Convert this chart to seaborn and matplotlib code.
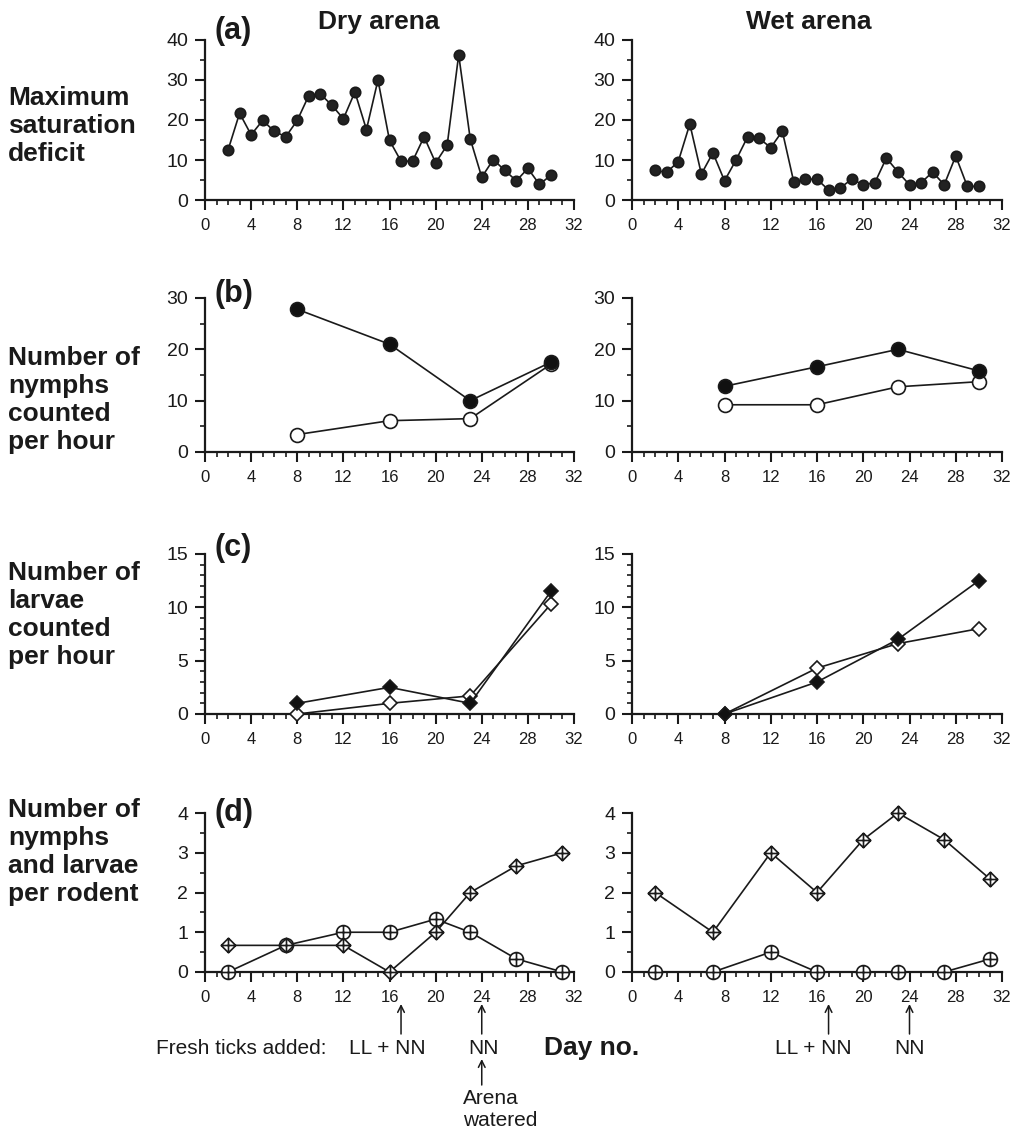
import numpy as np
import pandas as pd
import matplotlib
matplotlib.use("Agg")
import matplotlib.pyplot as plt
import matplotlib.transforms as mtransforms
from matplotlib.path import Path
from matplotlib.ticker import MultipleLocator
import seaborn as sns

# ---------------- data ----------------
days_a = list(range(2, 31))
dry_satdef = [12.5, 21.7, 16.3, 19.9, 17.2, 15.8, 19.9, 26.1, 26.5, 23.7,
              20.3, 27.0, 17.6, 30.0, 14.9, 9.7, 9.7, 15.8, 9.3, 13.7,
              36.3, 15.3, 5.7, 10.1, 7.4, 4.8, 7.9, 3.9, 6.2]
wet_satdef = [7.4, 6.9, 9.6, 19.0, 6.5, 11.8, 4.8, 10.0, 15.8, 15.4,
              13.1, 17.2, 4.4, 5.2, 5.2, 2.5, 3.0, 5.2, 3.8, 4.3,
              10.5, 7.0, 3.8, 4.3, 7.0, 3.8, 11.0, 3.4, 3.4]

days_bc = [8, 16, 23, 30]
dry_nymphs_filled = [27.8, 21.0, 10.0, 17.5]
dry_nymphs_open = [3.4, 6.1, 6.5, 17.1]
wet_nymphs_filled = [12.8, 16.6, 20.0, 15.8]
wet_nymphs_open = [9.2, 9.2, 12.7, 13.7]

dry_larvae_filled = [1.0, 2.5, 1.0, 11.5]
dry_larvae_open = [0.0, 1.0, 1.7, 10.3]
wet_larvae_filled = [0.0, 3.0, 7.0, 12.5]
wet_larvae_open = [0.0, 4.3, 6.6, 8.0]

days_d = [2, 7, 12, 16, 20, 23, 27, 31]
dry_rodent_diamond = [0.67, 0.67, 0.67, 0.0, 1.0, 2.0, 2.67, 3.0]
dry_rodent_circle = [0.0, 0.67, 1.0, 1.0, 1.33, 1.0, 0.33, 0.0]
wet_rodent_diamond = [2.0, 1.0, 3.0, 2.0, 3.33, 4.0, 3.33, 2.33]
wet_rodent_circle = [0.0, 0.0, 0.5, 0.0, 0.0, 0.0, 0.0, 0.33]

row_labels = ["Maximum\nsaturation\ndeficit",
              "Number of\nnymphs\ncounted\nper hour",
              "Number of\nlarvae\ncounted\nper hour",
              "Number of\nnymphs\nand larvae\nper rodent"]
panel_letters = ["(a)", "(b)", "(c)", "(d)"]
col_titles = ["Dry arena", "Wet arena"]

# ---------------- style ----------------
sns.set_theme(style="ticks")
plt.rcParams['font.family'] = ['Liberation Sans', 'DejaVu Sans']

W, H = 1011, 1138
fig = plt.figure(figsize=(W / 100, H / 100), dpi=100)
fig.patch.set_facecolor("white")


def fx(x):
    return x / W


def fy(y):
    return 1 - y / H


# marker paths
M, L = Path.MOVETO, Path.LINETO
diamond_plus = Path.make_compound_path(
    Path([(0, 1), (1, 0), (0, -1), (-1, 0), (0, 1)], [M, L, L, L, Path.CLOSEPOLY]),
    Path([(-1, 0), (1, 0)], [M, L]),
    Path([(0, -1), (0, 1)], [M, L]))
circle_plus = Path.make_compound_path(
    Path.unit_circle(),
    Path([(-1, 0), (1, 0)], [M, L]),
    Path([(0, -1), (0, 1)], [M, L]))

cols_px = [(205, 574), (632, 1002)]
rows_px = [(40, 200), (298, 452), (554, 714), (813, 972)]
ylims = [(40, 10, 5), (30, 10, 5), (15, 5, 1), (4, 1, 0.5)]


def make_ax(r, c):
    x0, x1 = cols_px[c]
    t, b = rows_px[r]
    ax = fig.add_axes([fx(x0), fy(b), (x1 - x0) / W, (b - t) / H])
    ymax, ymaj, ymin = ylims[r]
    ax.set_xlim(0, 32)
    ax.set_ylim(0, ymax)
    ax.xaxis.set_major_locator(MultipleLocator(4))
    ax.xaxis.set_minor_locator(MultipleLocator(1))
    ax.yaxis.set_major_locator(MultipleLocator(ymaj))
    ax.yaxis.set_minor_locator(MultipleLocator(ymin))
    sns.despine(ax=ax)
    for s in ["left", "bottom"]:
        ax.spines[s].set_linewidth(1.6)
        ax.spines[s].set_color("#1a1a1a")
    ax.tick_params(which="major", length=7, width=1.5, direction="out", color="#1a1a1a")
    ax.tick_params(which="minor", length=3.5, width=1.2, direction="out", color="#1a1a1a")
    ax.tick_params(axis="x", labelsize=12, pad=6, labelcolor="#1a1a1a")
    ax.tick_params(axis="y", labelsize=14, pad=5, labelcolor="#1a1a1a")
    ax.patch.set_alpha(0)
    return ax


def line(ax, x, y, marker, ms, fc, zorder=3):
    sns.lineplot(x=x, y=y, ax=ax, color="#1a1a1a", lw=1.2, marker=marker,
                 markersize=ms, markerfacecolor=fc, markeredgecolor="#1a1a1a",
                 markeredgewidth=1.2, clip_on=False, zorder=zorder)
    ax.set_xlabel("")
    ax.set_ylabel("")


for c in range(2):
    # (a)
    ax = make_ax(0, c)
    line(ax, days_a, dry_satdef if c == 0 else wet_satdef, "o", 7.5, "#222222")
    # (b)
    ax = make_ax(1, c)
    line(ax, days_bc, dry_nymphs_open if c == 0 else wet_nymphs_open, "o", 10, "white")
    line(ax, days_bc, dry_nymphs_filled if c == 0 else wet_nymphs_filled, "o", 10, "#111111", 4)
    # (c)
    ax = make_ax(2, c)
    line(ax, days_bc, dry_larvae_open if c == 0 else wet_larvae_open, "D", 7.5, "white")
    line(ax, days_bc, dry_larvae_filled if c == 0 else wet_larvae_filled, "D", 7.5, "#111111", 4)
    # (d)
    ax = make_ax(3, c)
    line(ax, days_d, dry_rodent_circle if c == 0 else wet_rodent_circle, circle_plus, 10, "white")
    line(ax, days_d, dry_rodent_diamond if c == 0 else wet_rodent_diamond, diamond_plus, 10.5, "white", 4)

    # arrows below (d)
    trans = mtransforms.blended_transform_factory(ax.transData, fig.transFigure)
    for d in (17, 24):
        ax.annotate("", xy=(d, fy(1004)), xytext=(d, fy(1034)),
                    xycoords=trans, textcoords=trans, annotation_clip=False,
                    arrowprops=dict(arrowstyle="->", lw=1.1, color="#1a1a1a",
                                    shrinkA=0, shrinkB=0, mutation_scale=12))
    if c == 0:
        ax.annotate("", xy=(24, fy(1059)), xytext=(24, fy(1085)),
                    xycoords=trans, textcoords=trans, annotation_clip=False,
                    arrowprops=dict(arrowstyle="->", lw=1.1, color="#1a1a1a",
                                    shrinkA=0, shrinkB=0, mutation_scale=12))

# ---------------- texts ----------------
row_centers = [126, 400, 615, 852]
for lab, yc in zip(row_labels, row_centers):
    fig.text(fx(8), fy(yc), lab, ha="left", va="center", fontsize=19,
             fontweight="bold", linespacing=1.2, color="#1a1a1a")

letter_centers = [31, 294, 548, 813]
for lab, yc in zip(panel_letters, letter_centers):
    fig.text(fx(215), fy(yc), lab, ha="left", va="center", fontsize=22,
             fontweight="bold", color="#1a1a1a")

fig.text(fx(379), fy(22), col_titles[0], ha="center", va="center",
         fontsize=19, fontweight="bold", color="#1a1a1a")
fig.text(fx(809), fy(22), col_titles[1], ha="center", va="center",
         fontsize=19, fontweight="bold", color="#1a1a1a")

fig.text(fx(156), fy(1048), "Fresh ticks added:", ha="left", va="center",
         fontsize=15, color="#1a1a1a")
fig.text(fx(387), fy(1048), "LL + NN", ha="center", va="center", fontsize=15, color="#1a1a1a")
fig.text(fx(483), fy(1048), "NN", ha="center", va="center", fontsize=15, color="#1a1a1a")
fig.text(fx(592), fy(1048), "Day no.", ha="center", va="center", fontsize=19,
         fontweight="bold", color="#1a1a1a")
fig.text(fx(813), fy(1048), "LL + NN", ha="center", va="center", fontsize=15, color="#1a1a1a")
fig.text(fx(910), fy(1048), "NN", ha="center", va="center", fontsize=15, color="#1a1a1a")
fig.text(fx(463), fy(1110), "Arena\nwatered", ha="left", va="center", fontsize=15,
         linespacing=1.2, color="#1a1a1a")

fig.savefig("out.png", dpi=100, facecolor="white")
